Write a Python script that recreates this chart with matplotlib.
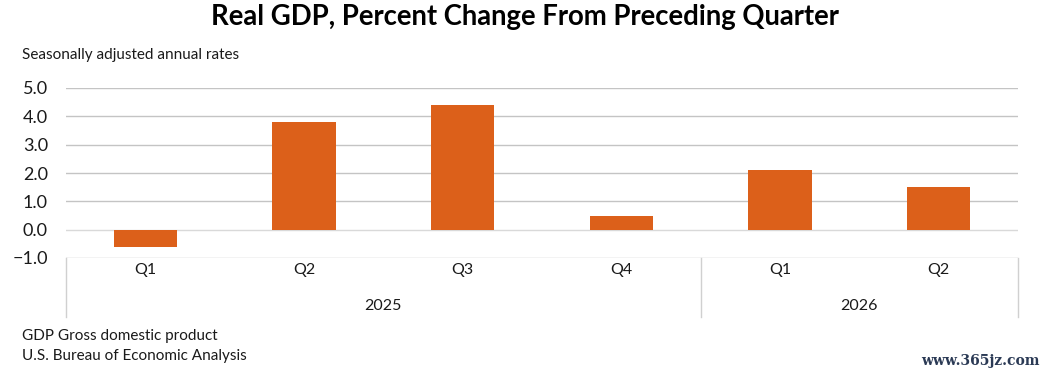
import matplotlib.pyplot as plt
import matplotlib.transforms as mtransforms

# ---------------- Data ----------------
quarters = ["Q1", "Q2", "Q3", "Q4", "Q1", "Q2"]
years = ["2025", "2026"]
year_spans = [(0, 4), (4, 6)]  # quarter index ranges for each year
gdp_change = [-0.6, 3.8, 4.4, 0.5, 2.1, 1.5]
yticks = [-1.0, 0.0, 1.0, 2.0, 3.0, 4.0, 5.0]

plt.rcParams['font.family'] = ['Lato', 'DejaVu Sans']
text_col = "#1a1a1a"
bar_col = "#dc601a"
grid_col = "#c4c4c4"

fig = plt.figure(figsize=(10.5, 3.77), dpi=100)
ax = fig.add_axes([66 / 1050, 1 - 258 / 377, 952 / 1050, 170 / 377])

x = list(range(len(gdp_change)))
ax.bar(x, gdp_change, width=0.4, color=bar_col, zorder=3)

ax.set_xlim(-0.5, len(x) - 0.5)
ax.set_ylim(-1, 5)
ax.set_yticks(yticks)
ax.set_yticklabels([f"{v:.1f}".replace("-", "\u2212") for v in yticks],
                   fontsize=13, color=text_col)
ax.tick_params(axis="y", length=0, pad=13)
for v in yticks:
    ax.axhline(v, color=grid_col if v != 0 else "#d9d9d9", lw=1, zorder=1)
for s in ax.spines.values():
    s.set_visible(False)

# category axis: quarters and years
ax.set_xticks([])
tr = mtransforms.blended_transform_factory(ax.transData, ax.transAxes)
for i, q in enumerate(quarters):
    ax.text(i, -0.07, q, transform=tr, ha="center", va="center",
            fontsize=11.5, color=text_col)
for yr, (a, b) in zip(years, year_spans):
    ax.text((a + b - 1) / 2, -0.28, yr, transform=tr, ha="center", va="center",
            fontsize=11.5, color=text_col)
for xv in [-0.5, 3.5, 5.5]:
    ax.plot([xv, xv], [0, -0.347], transform=tr, color="#d0d0d0", lw=1,
            clip_on=False)

fig.text(0.5, 1 - 17 / 377, "Real GDP, Percent Change From Preceding Quarter",
         ha="center", va="center", fontsize=19.8, fontweight="bold", color="#000000")
fig.text(22 / 1050, 1 - 55 / 377, "Seasonally adjusted annual rates",
         ha="left", va="center", fontsize=11, color=text_col)
fig.text(22 / 1050, 1 - 336 / 377, "GDP Gross domestic product",
         ha="left", va="center", fontsize=11, color=text_col)
fig.text(22 / 1050, 1 - 356 / 377, "U.S. Bureau of Economic Analysis",
         ha="left", va="center", fontsize=11, color=text_col)
fig.text(1040 / 1050, 1 - 361 / 377, "www.365jz.com", ha="right", va="center",
         fontsize=10, fontweight="bold", color="#2b3a55", family="DejaVu Serif")

fig.savefig("out.png", dpi=100)
